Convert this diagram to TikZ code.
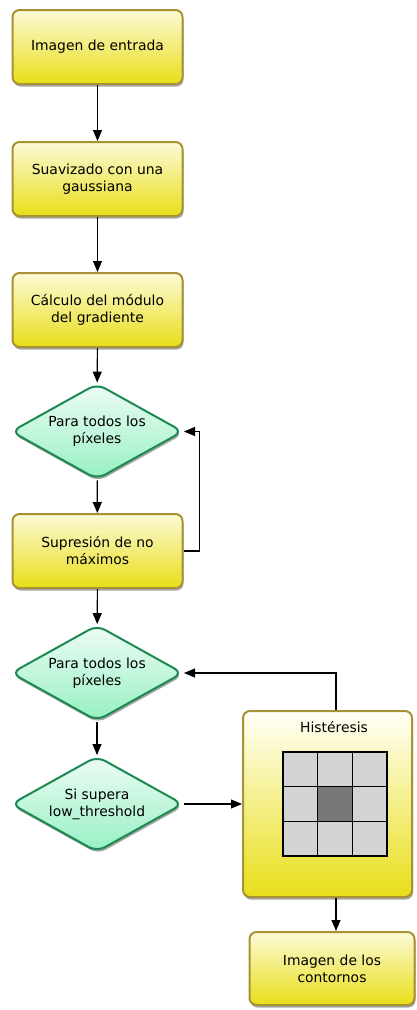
\documentclass[tikz,border=0pt]{standalone}
\usepackage{fontspec}
\setmainfont{DejaVu Sans}
\usetikzlibrary{shapes.geometric,arrows.meta,shadows,calc}
\definecolor{ybord}{RGB}{168,146,52}
\definecolor{ytop}{RGB}{252,250,215}
\definecolor{ybot}{RGB}{232,222,24}
\definecolor{htop}{RGB}{255,255,248}
\definecolor{dbord}{RGB}{28,138,80}
\definecolor{dtop}{RGB}{238,252,246}
\definecolor{dbot}{RGB}{150,240,195}
\definecolor{cellg}{RGB}{212,212,212}
\definecolor{celld}{RGB}{120,120,120}
\begin{document}
\begin{tikzpicture}[x=1pt,y=-1pt,
  font=\fontsize{13.9}{17}\selectfont,
  shad/.style={drop shadow={shadow xshift=1pt,shadow yshift=-2.5pt,opacity=0.35,fill=black}},
  box/.style={shad,draw=ybord,line width=2pt,rounded corners=7pt,top color=ytop,bottom color=ybot,
    minimum width=170pt,minimum height=74pt,align=center,inner sep=0pt},
  dia/.style={shad,shape=diamond,aspect=1.78,draw=dbord,line width=2pt,rounded corners=9pt,
    top color=dtop,bottom color=dbot,minimum width=172pt,minimum height=96pt,inner sep=0pt,align=center},
  arr/.style={line width=1.1pt,-{Triangle[length=11pt,width=9pt]}},
  cell/.style={draw=black,line width=1.1pt,fill=cellg}]
\useasboundingbox (0,0) rectangle (417,1010);
\node[box] (b1) at (97.5,47) {Imagen de entrada};
\node[box] (b2) at (97.5,179) {Suavizado con una\\gaussiana};
\node[box] (b3) at (97.5,310) {Cálculo del módulo\\del gradiente};
\node[dia] (d1) at (97,431.5) {Para todos los\\píxeles};
\node[box] (b4) at (97.5,551) {Supresión de no\\máximos};
\node[dia] (d2) at (97,673) {Para todos los\\píxeles};
\node[dia] (d3) at (97,804) {Si supera\\low\_threshold};
\node[box,minimum width=169pt,minimum height=186pt,top color=htop] (h) at (327.5,804) {};
\node (ht) at (334,727) {Histéresis};
\node[box,minimum width=165pt,minimum height=73pt] (b5) at (332,968.5) {Imagen de los\\contornos};
% grid
\foreach \i in {0,1,2}{\foreach \j in {0,1,2}{
  \draw[cell] (283+34.67*\i,752+34.67*\j) rectangle ++(34.67,34.67);}}
\draw[cell,fill=celld] (283+34.67,752+34.67) rectangle ++(34.67,34.67);
% connectors
\draw[arr] (b1) -- (b2);
\draw[arr] (b2) -- (b3);
\draw[arr] (b3) -- (d1);
\draw[arr] (d1) -- (b4);
\draw[arr] (b4) -- (d2);
\draw[arr] (d2) -- (d3);
\draw[arr] (b4.east) -- ++(16,0) |- (d1.east);
\draw[arr] ([xshift=8.5pt]h.north) |- (d2.east);
\draw[arr] (d3.east) -- (d3.east -| h.west);
\draw[arr] ([xshift=8.5pt]h.south) -- ([xshift=8.5pt]h.south |- b5.north);
\end{tikzpicture}
\end{document}
